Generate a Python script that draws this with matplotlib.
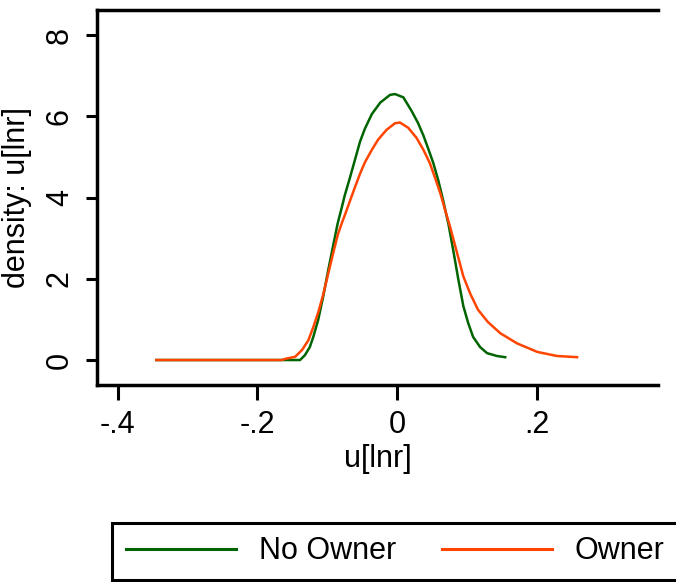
import matplotlib
matplotlib.use("Agg")
import matplotlib.pyplot as plt
from matplotlib.lines import Line2D

plt.rcParams['font.family'] = ['Liberation Sans', 'DejaVu Sans']

# kernel density estimates
no_owner_x = [-0.345, -0.160, -0.139, -0.132, -0.125, -0.120, -0.113, -0.106, -0.099,
              -0.092, -0.085, -0.079, -0.075, -0.067, -0.060, -0.053, -0.046, -0.036,
              -0.024, -0.010, -0.003, 0.009, 0.021, 0.030, 0.038, 0.045, 0.052,
              0.059, 0.066, 0.071, 0.074, 0.081, 0.088, 0.095, 0.102, 0.109,
              0.119, 0.129, 0.143, 0.155]
no_owner_y = [0.0, 0.0, 0.0, 0.12, 0.32, 0.57, 0.99, 1.55, 2.18,
              2.78, 3.37, 3.77, 4.05, 4.52, 4.95, 5.38, 5.70, 6.06,
              6.34, 6.53, 6.55, 6.47, 6.13, 5.84, 5.52, 5.19, 4.85,
              4.43, 3.94, 3.55, 3.32, 2.66, 1.97, 1.33, 0.91, 0.57,
              0.32, 0.17, 0.10, 0.07]

owner_x = [-0.345, -0.165, -0.160, -0.146, -0.136, -0.127, -0.120, -0.113, -0.106,
           -0.099, -0.092, -0.085, -0.079, -0.075, -0.067, -0.060, -0.053, -0.046,
           -0.036, -0.027, -0.015, -0.003, 0.004, 0.016, 0.028, 0.038, 0.047,
           0.054, 0.062, 0.069, 0.076, 0.086, 0.095, 0.105, 0.116, 0.130,
           0.148, 0.172, 0.201, 0.229, 0.258]
owner_y = [0.0, 0.0, 0.03, 0.08, 0.25, 0.49, 0.81, 1.17, 1.60,
           2.10, 2.60, 3.08, 3.38, 3.56, 3.94, 4.27, 4.59, 4.87,
           5.18, 5.43, 5.67, 5.83, 5.85, 5.72, 5.47, 5.17, 4.85,
           4.51, 4.11, 3.69, 3.28, 2.64, 2.06, 1.63, 1.24, 0.94,
           0.66, 0.41, 0.20, 0.10, 0.07]

xticks = [-0.4, -0.2, 0.0, 0.2]
xticklabels = ['-.4', '-.2', '0', '.2']
yticks = [0, 2, 4, 6, 8]
yticklabels = ['0', '2', '4', '6', '8']
series_names = ['No Owner', 'Owner']

green = '#006400'
orange = '#ff4500'
fs = 22

fig = plt.figure(figsize=(6.76, 5.82), dpi=100)
ax = fig.add_axes([97 / 676, 197 / 582, 561 / 676, 375 / 582])

ax.plot(no_owner_x, no_owner_y, color=green, lw=1.8)
ax.plot(owner_x, owner_y, color=orange, lw=1.8)

ax.set_xlim(-0.430, 0.374)
ax.set_ylim(-0.615, 8.62)
ax.set_xticks(xticks)
ax.set_xticklabels(xticklabels)
ax.set_yticks(yticks)
ax.set_yticklabels(yticklabels, rotation=90, va='center')

ax.tick_params(axis='x', length=11, width=2.2, pad=7, labelsize=fs)
ax.tick_params(axis='y', length=8, width=2.2, pad=8, labelsize=fs)

for side in ['left', 'top', 'bottom']:
    ax.spines[side].set_linewidth(2.5)
ax.spines['right'].set_visible(False)

ax.set_xlabel('u[lnr]', fontsize=fs, labelpad=3)
ax.set_ylabel('density: u[lnr]', fontsize=fs, labelpad=9)

handles = [Line2D([], [], color=green, lw=2.2), Line2D([], [], color=orange, lw=2.2)]
leg = fig.legend(handles, series_names, loc='lower left', ncol=2,
                 bbox_to_anchor=(112 / 676, 2 / 582),
                 fontsize=fs, handlelength=3.6, handletextpad=0.75,
                 columnspacing=1.5, borderaxespad=0, borderpad=0.45,
                 fancybox=False, frameon=True, framealpha=1)
leg.get_frame().set_edgecolor('black')
leg.get_frame().set_linewidth(2.2)

fig.savefig('out.png', dpi=100)
